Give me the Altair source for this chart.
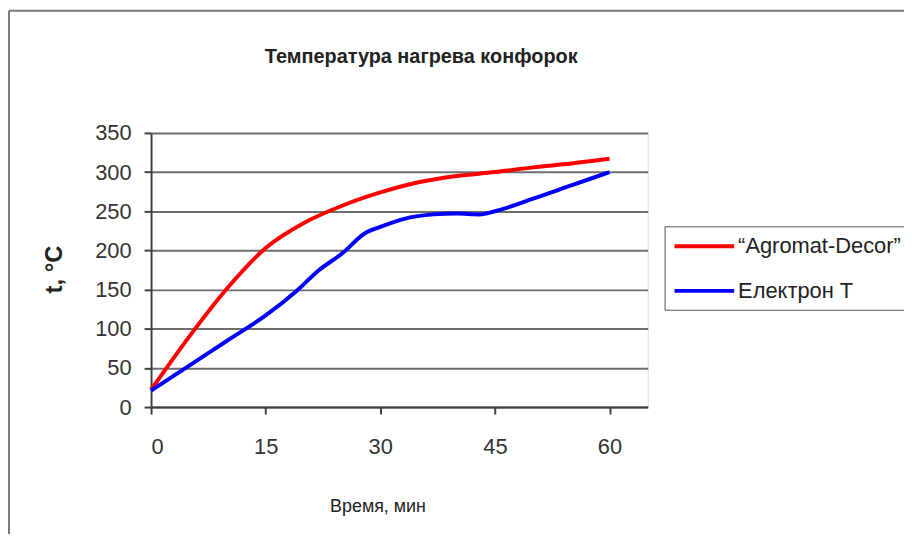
import altair as alt
import pandas as pd

# ---- data ----
series_names = ["“Agromat-Decor”", "Електрон T"]

red_t = [0, 5, 10, 15, 20, 25, 30, 35, 40, 45, 50, 55, 60]
red_v = [22, 90, 152, 203, 235, 257, 274, 287, 295, 300, 306, 311, 317]

blue_t = [0, 5, 10, 15, 19, 22, 25, 28, 30, 33, 37, 40, 43, 45, 50, 55, 60]
blue_v = [21, 53, 85, 117, 148, 175, 196, 222, 230, 240, 246, 247, 246, 250, 266, 283, 300]

x_ticks = [0, 15, 30, 45, 60]
y_ticks = [0, 50, 100, 150, 200, 250, 300, 350]

chart_title = "Температура нагрева конфорок"
x_title = "Время, мин"
y_title = "t, °C"

rows = []
for t, v in zip(red_t, red_v):
    rows.append({"t": t, "v": v, "s": series_names[0]})
for t, v in zip(blue_t, blue_v):
    rows.append({"t": t, "v": v, "s": series_names[1]})
df = pd.DataFrame(rows)

FONT = "Liberation Sans"
W, H = 500, 276

lines = alt.Chart(df).mark_line(strokeWidth=4, interpolate="monotone").encode(
    x=alt.X("t:Q",
            scale=alt.Scale(domain=[0, 65], nice=False),
            axis=alt.Axis(values=x_ticks, title=x_title, grid=False,
                          labelFontSize=22, labelFont=FONT, labelColor="#333333",
                          labelPadding=23, tickSize=7, tickColor="#404040", tickWidth=2,
                          domainColor="#404040", domainWidth=2,
                          titleFont=FONT, titleFontSize=18, titleFontWeight="normal",
                          titleColor="#222222", titleX=228, titleY=100,
                          titleAlign="center", titleBaseline="middle")),
    y=alt.Y("v:Q",
            scale=alt.Scale(domain=[0, 350], nice=False),
            axis=alt.Axis(values=y_ticks, title=y_title, grid=True,
                          gridColor="#6e6e6e", gridWidth=2,
                          labelFontSize=22, labelFont=FONT, labelColor="#333333",
                          labelPadding=13, tickSize=7, tickColor="#404040", tickWidth=2,
                          domainColor="#404040", domainWidth=2,
                          titleFont=FONT, titleFontSize=24, titleFontWeight="bold",
                          titleColor="#222222", titleX=-97, titleY=137, titleAngle=270,
                          titleAlign="center", titleBaseline="middle")),
    color=alt.Color("s:N",
                    scale=alt.Scale(domain=series_names, range=["#ff0000", "#0000ff"]),
                    sort=series_names,
                    legend=alt.Legend(title=None, orient="none", legendX=517, legendY=94,
                                      labelFontSize=22, labelFont=FONT, labelColor="#222222",
                                      labelLimit=400,
                                      symbolType="M-3,0L3,0", symbolSize=400,
                                      symbolStrokeWidth=4, symbolOffset=20, labelOffset=22,
                                      rowPadding=22, padding=8,
                                      strokeColor="#555555", fillColor="white")),
)

frame_top = alt.Chart(pd.DataFrame({"k": [0]})).mark_rule(color="#7a7a7a", strokeWidth=2).encode(
    x=alt.value(-143), x2=alt.value(800), y=alt.value(-123))
frame_left = alt.Chart(pd.DataFrame({"k": [0]})).mark_rule(color="#7a7a7a", strokeWidth=2).encode(
    x=alt.value(-143), y=alt.value(-123), y2=alt.value(420))

chart = alt.layer(frame_top, frame_left, lines).properties(
    width=W, height=H,
    autosize=alt.AutoSizeParams(type="none"),
    padding={"left": 144, "top": 124, "right": 258, "bottom": 126},
    title=alt.Title(chart_title, font=FONT, fontSize=20,
                    fontWeight="bold", color="#222222", anchor="middle",
                    dx=22, offset=-68, baseline="middle"),
).configure_view(stroke="#bdbdbd", strokeWidth=2).configure(background="white")

chart.save("out.html", embed_options={"renderer": "svg", "actions": False})
